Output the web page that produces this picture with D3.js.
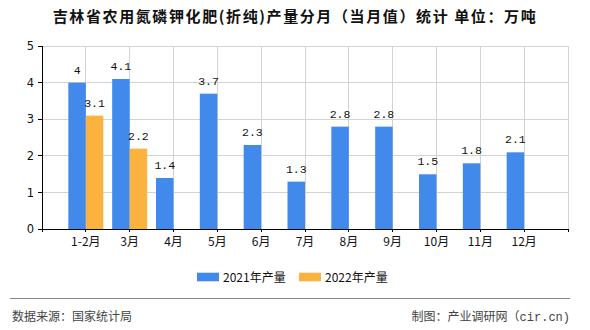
<!DOCTYPE html>
<html><head><meta charset="utf-8">
<script src="https://cdn.jsdelivr.net/npm/d3@7/dist/d3.min.js"></script>
<style>body{margin:0;background:#fff}svg{display:block}</style>
</head><body>
<svg id="c" width="590" height="330"></svg>
<script>
const categories = ["1-2月","3月","4月","5月","6月","7月","8月","9月","10月","11月","12月"];
const series = ["2021年产量","2022年产量"];
const values2021 = [4,4.1,1.4,3.7,2.3,1.3,2.8,2.8,1.5,1.8,2.1];
const values2022 = [3.1,2.2,null,null,null,null,null,null,null,null,null];
const yTicks = [0,1,2,3,4,5];
const colors = ["#418AEC","#FCB23F"];

const svg = d3.select("#c");
const L = 42, R = 568, T = 46, B = 229.3;
const x = d3.scalePoint().domain(categories).range([L, R]).padding(1);
const step = x.step();
const y = d3.scaleLinear().domain([0,5]).range([B, T]);
const sub = d3.scaleBand().domain(series).range([-17.5, 17.5]);
const color = d3.scaleOrdinal().domain(series).range(colors);

const tickPos = [x(categories[0]) - step, ...categories.map(c => x(c)), x(categories[categories.length-1]) + step];

// grid
const g = svg.append("g");
g.selectAll("line.h").data(yTicks.slice(1)).join("line")
  .attr("x1", L).attr("x2", R).attr("y1", d => y(d)).attr("y2", d => y(d))
  .attr("stroke", "#d3d3d3").attr("stroke-width", 1).attr("shape-rendering","crispEdges");
g.selectAll("line.v").data(tickPos.slice(1)).join("line")
  .attr("x1", d => d).attr("x2", d => d).attr("y1", T).attr("y2", B)
  .attr("stroke", "#d3d3d3").attr("stroke-width", 1).attr("shape-rendering","crispEdges");

// bars
const data = [];
categories.forEach((c, i) => {
  [values2021[i], values2022[i]].forEach((v, j) => {
    if (v != null) data.push({c, s: series[j], v});
  });
});
svg.append("g").selectAll("rect").data(data).join("rect")
  .attr("x", d => x(d.c) + sub(d.s))
  .attr("width", sub.bandwidth())
  .attr("y", d => y(d.v))
  .attr("height", d => y(0) - y(d.v))
  .attr("fill", d => color(d.s));

svg.append("g").selectAll("text").data(data).join("text")
  .attr("x", d => x(d.c) + sub(d.s) + sub.bandwidth()/2)
  .attr("y", d => y(d.v) - 9)
  .attr("text-anchor", "middle")
  .attr("font-family", "Liberation Mono, DejaVu Sans Mono, monospace")
  .attr("font-size", 11.5).attr("fill", "#111")
  .text(d => String(d.v));

// axes
svg.append("line").attr("x1", L).attr("x2", L).attr("y1", T).attr("y2", B)
  .attr("stroke", "#000").attr("shape-rendering","crispEdges");
svg.append("line").attr("x1", L-0.5).attr("x2", R+0.5).attr("y1", B).attr("y2", B)
  .attr("stroke", "#000").attr("shape-rendering","crispEdges");
svg.selectAll("line.yt").data(yTicks).join("line")
  .attr("x1", L-4.5).attr("x2", L).attr("y1", d => y(d)).attr("y2", d => y(d))
  .attr("stroke", "#000").attr("shape-rendering","crispEdges");
svg.selectAll("text.yl").data(yTicks).join("text")
  .attr("x", L-8).attr("y", d => y(d) + 4)
  .attr("text-anchor", "end").attr("font-family", "DejaVu Sans, sans-serif")
  .attr("font-size", 11.5).attr("fill", "#111").text(d => d);
svg.selectAll("line.xt").data(tickPos).join("line")
  .attr("x1", d => d).attr("x2", d => d).attr("y1", B).attr("y2", B+3)
  .attr("stroke", "#000").attr("shape-rendering","crispEdges");
svg.selectAll("text.xl").data(categories).join("text")
  .attr("x", d => x(d)).attr("y", B + 17)
  .attr("text-anchor", "middle").attr("font-family", "Noto Sans CJK SC, sans-serif")
  .attr("font-size", 12).attr("fill", "#111").text(d => d);

// title
svg.append("text").attr("x", 52.7).attr("y", 22)
  .attr("font-family", "Noto Sans CJK SC, sans-serif").attr("font-weight", "bold")
  .attr("font-size", 15).attr("fill", "#111")
  .attr("textLength", 483).attr("lengthAdjust", "spacing")
  .text("吉林省农用氮磷钾化肥(折纯)产量分月（当月值）统计 单位：万吨");

// legend
const legX = [197, 299];
const lg = svg.append("g").selectAll("g").data(series).join("g")
  .attr("transform", (d, i) => `translate(${legX[i]},272.7)`);
lg.append("rect").attr("width", 22).attr("height", 8.6).attr("fill", d => color(d));
lg.append("text").attr("x", 26).attr("y", 8.8)
  .attr("font-family", "Noto Sans CJK SC, sans-serif").attr("font-size", 12)
  .attr("fill", "#111").text(d => d);

// footer
svg.append("line").attr("x1", 10).attr("x2", 570).attr("y1", 298.5).attr("y2", 298.5)
  .attr("stroke", "#888").attr("stroke-width", 1);
svg.append("text").attr("x", 12).attr("y", 320.5)
  .attr("font-family", "Noto Sans CJK SC, sans-serif").attr("font-size", 12)
  .attr("fill", "#444").text("数据来源：国家统计局");
const ft = svg.append("text").attr("x", 570).attr("y", 320.5).attr("text-anchor", "end")
  .attr("font-family", "Noto Sans CJK SC, sans-serif").attr("font-size", 12)
  .attr("fill", "#444");
ft.append("tspan").text("制图：产业调研网（");
ft.append("tspan").attr("font-family", "Liberation Mono, monospace").text("cir.cn)");
</script>
</body></html>
